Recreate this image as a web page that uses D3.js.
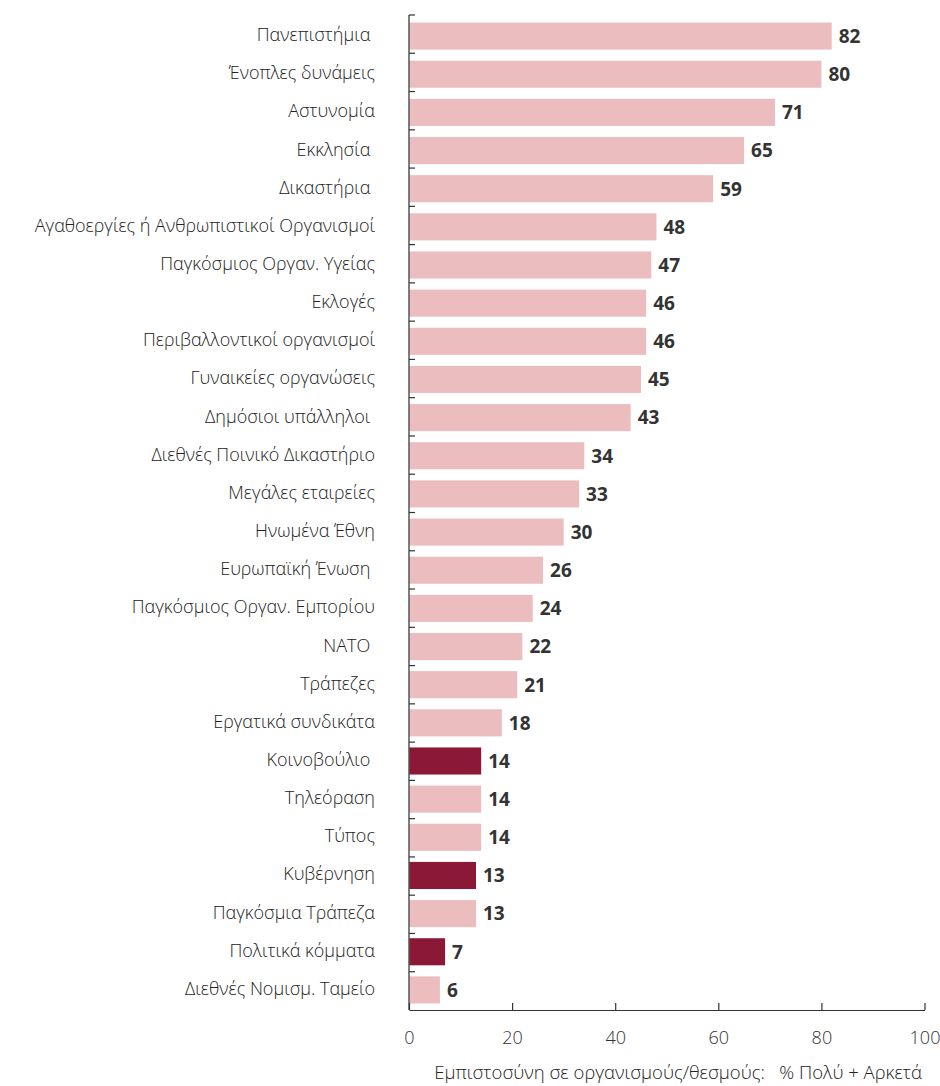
<!DOCTYPE html>
<html>
<head>
<meta charset="utf-8">
<script src="https://cdn.jsdelivr.net/npm/d3@7"></script>
<style>
  html, body { margin: 0; padding: 0; background: #fff; }
  svg text { font-family: "Open Sans", "Noto Sans", sans-serif; }
</style>
</head>
<body>
<svg id="chart" width="940" height="1086"></svg>
<script>
const categories = [
  "Πανεπιστήμια\u00A0", "Ένοπλες δυνάμεις", "Αστυνομία", "Εκκλησία\u00A0", "Δικαστήρια\u00A0",
  "Αγαθοεργίες ή Ανθρωπιστικοί Οργανισμοί", "Παγκόσμιος Οργαν. Υγείας", "Εκλογές",
  "Περιβαλλοντικοί οργανισμοί", "Γυναικείες οργανώσεις", "Δημόσιοι υπάλληλοι\u00A0",
  "Διεθνές Ποινικό Δικαστήριο", "Μεγάλες εταιρείες", "Ηνωμένα Έθνη", "Ευρωπαϊκή Ένωση\u00A0",
  "Παγκόσμιος Οργαν. Εμπορίου", "ΝΑΤΟ\u00A0", "Τράπεζες", "Εργατικά συνδικάτα",
  "Κοινοβούλιο\u00A0", "Τηλεόραση", "Τύπος", "Κυβέρνηση", "Παγκόσμια Τράπεζα",
  "Πολιτικά κόμματα", "Διεθνές Νομισμ. Ταμείο"
];
const values = [82, 80, 71, 65, 59, 48, 47, 46, 46, 45, 43, 34, 33, 30, 26, 24, 22, 21, 18, 14, 14, 14, 13, 13, 7, 6];
const highlighted = ["Κοινοβούλιο\u00A0", "Κυβέρνηση", "Πολιτικά κόμματα"];
const xTicks = [0, 20, 40, 60, 80, 100];
const axisTitle = "Εμπιστοσύνη σε οργανισμούς/θεσμούς:   % Πολύ + Αρκετά";

const data = categories.map((c, i) => ({ cat: c, val: values[i] }));

const svg = d3.select("#chart");
const x = d3.scaleLinear().domain([0, 100]).range([409, 924.5]);
// bars
const y = d3.scaleBand().domain(categories).range([17, 1009]).paddingInner(0.29).paddingOuter(0.145);
// axis tick boundaries
const yAxisBand = d3.scaleBand().domain(categories).range([15, 1010]);

svg.append("g").selectAll("rect").data(data).join("rect")
  .attr("x", x(0))
  .attr("y", d => y(d.cat))
  .attr("width", d => x(d.val) - x(0))
  .attr("height", y.bandwidth())
  .attr("fill", d => highlighted.includes(d.cat) ? "#8C1838" : "#ECBDBE");

// value labels
svg.append("g").selectAll("text").data(data).join("text")
  .attr("x", d => x(d.val) + 7)
  .attr("y", d => y(d.cat) + y.bandwidth() / 2)
  .attr("dy", "0.36em")
  .attr("font-size", 19)
  .attr("font-weight", 700)
  .attr("fill", "#333")
  .text(d => d.val);

// category labels
svg.append("g").selectAll("text").data(data).join("text")
  .attr("x", 375)
  .attr("y", d => y(d.cat) + y.bandwidth() / 2 - 1.5)
  .attr("dy", "0.36em")
  .attr("text-anchor", "end")
  .attr("font-size", 18)
  .attr("font-weight", 300)
  .attr("fill", "#222")
  .style("white-space", "pre")
  .text(d => d.cat);

// left axis line with boundary ticks
const leftAxis = svg.append("g");
leftAxis.append("line")
  .attr("x1", x(0)).attr("x2", x(0))
  .attr("y1", yAxisBand.range()[0]).attr("y2", yAxisBand.range()[1])
  .attr("stroke", "#555").attr("stroke-width", 1.5);
leftAxis.selectAll("line.tk").data(categories).join("line")
  .attr("class", "tk")
  .attr("x1", x(0)).attr("x2", x(0) + 6)
  .attr("y1", d => yAxisBand(d)).attr("y2", d => yAxisBand(d))
  .attr("stroke", "#333").attr("stroke-width", 1.2);

// bottom axis
const bottom = svg.append("g").attr("transform", `translate(0,${yAxisBand.range()[1]})`)
  .call(d3.axisBottom(x).tickValues(xTicks).tickSize(-7).tickPadding(21).tickSizeOuter(0));
bottom.select(".domain").attr("stroke", "#333").attr("stroke-width", 1.2);
bottom.selectAll(".tick line").attr("stroke", "#333").attr("stroke-width", 1.2);
bottom.selectAll(".tick text")
  .attr("font-size", 18).attr("font-weight", 300).attr("fill", "#333")
  .attr("font-family", "\"Open Sans\", sans-serif");

// axis title
svg.append("text")
  .attr("x", 922)
  .attr("y", 1072)
  .attr("dy", "0.36em")
  .attr("text-anchor", "end")
  .attr("font-size", 18.5)
  .attr("font-weight", 300)
  .attr("fill", "#222")
  .style("white-space", "pre")
  .text(axisTitle);
</script>
</body>
</html>
